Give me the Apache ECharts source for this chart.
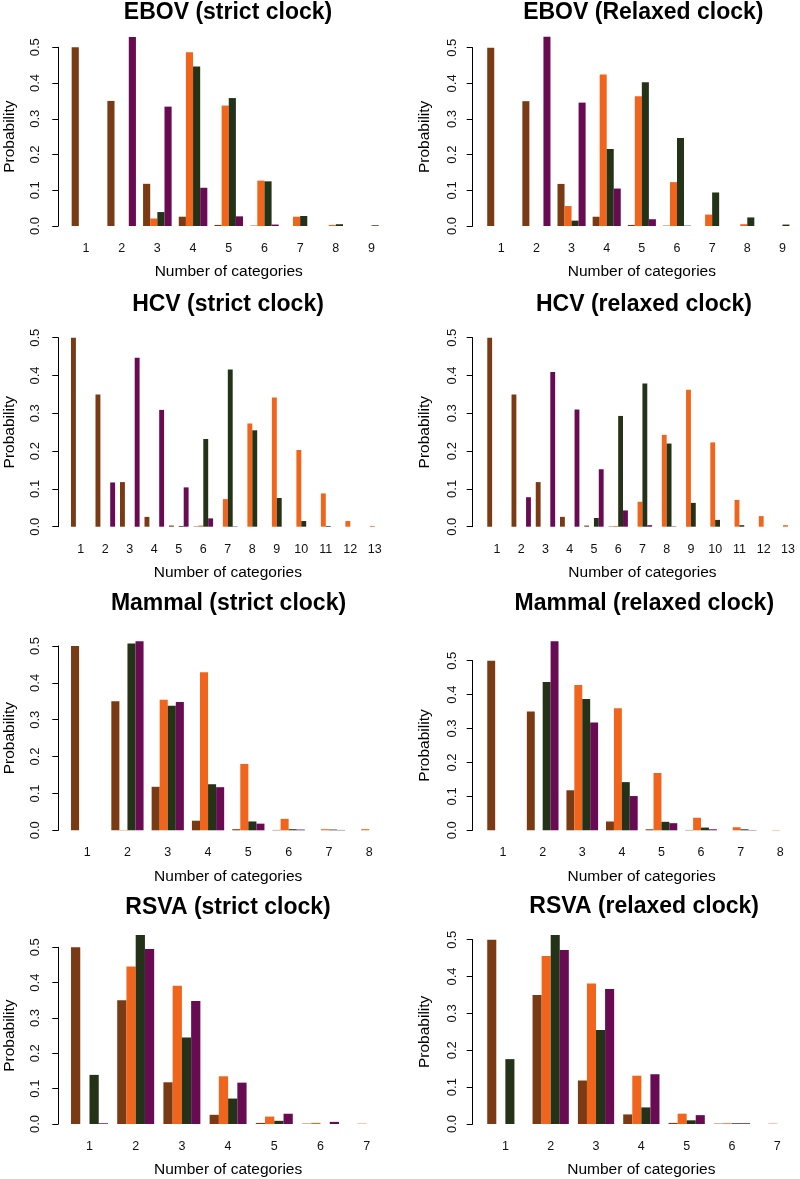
<!DOCTYPE html>
<html>
<head>
<meta charset="utf-8">
<script src="https://cdn.jsdelivr.net/npm/echarts@6/dist/echarts.min.js"></script>
<style>
  html, body { margin: 0; padding: 0; background: #ffffff; }
  #chart { width: 800px; height: 1179px; }
</style>
</head>
<body>
<div id="chart"></div>
<script>
// ---------- DATA ----------
const ebovCategories   = ['1','2','3','4','5','6','7','8','9'];
const hcvCategories    = ['1','2','3','4','5','6','7','8','9','10','11','12','13'];
const mammalCategories = ['1','2','3','4','5','6','7','8'];
const rsvaCategories   = ['1','2','3','4','5','6','7'];
const yTicks = [0, 0.1, 0.2, 0.3, 0.4, 0.5];

// brown bars (same prior distribution in every panel)
const priorValues = [0.5, 0.35, 0.118, 0.026, 0.003, 0.001, 0, 0, 0, 0, 0, 0, 0];

const ebovStrictOrange  = [0, 0, 0.021, 0.486, 0.337, 0.127, 0.026, 0.003, 0];
const ebovStrictGreen   = [0, 0, 0.039, 0.446, 0.358, 0.125, 0.028, 0.005, 0.002];
const ebovStrictPurple  = [0, 0.529, 0.334, 0.107, 0.027, 0.004, 0, 0, 0];

const ebovRelaxedOrange = [0, 0, 0.056, 0.425, 0.364, 0.123, 0.032, 0.005, 0];
const ebovRelaxedGreen  = [0, 0, 0.015, 0.216, 0.403, 0.247, 0.094, 0.024, 0.004];
const ebovRelaxedPurple = [0, 0.531, 0.346, 0.105, 0.019, 0.001, 0, 0, 0];

const hcvStrictOrange   = [0, 0, 0, 0, 0, 0.003, 0.073, 0.273, 0.342, 0.203, 0.088, 0.015, 0.002];
const hcvStrictGreen    = [0, 0, 0, 0, 0.002, 0.232, 0.416, 0.255, 0.076, 0.015, 0.002, 0, 0];
const hcvStrictPurple   = [0, 0.117, 0.447, 0.309, 0.104, 0.022, 0.001, 0, 0, 0, 0, 0, 0];

const hcvRelaxedOrange  = [0, 0, 0, 0, 0, 0.002, 0.066, 0.243, 0.362, 0.223, 0.071, 0.028, 0.004];
const hcvRelaxedGreen   = [0, 0, 0, 0, 0.023, 0.293, 0.379, 0.220, 0.063, 0.018, 0.004, 0, 0];
const hcvRelaxedPurple  = [0, 0.078, 0.409, 0.310, 0.152, 0.043, 0.004, 0.001, 0, 0, 0, 0, 0];

const mammalStrictOrange  = [0, 0.001, 0.354, 0.429, 0.180, 0.031, 0.003, 0.003];
const mammalStrictGreen   = [0, 0.507, 0.338, 0.125, 0.024, 0.003, 0.002, 0];
const mammalStrictPurple  = [0, 0.513, 0.348, 0.117, 0.018, 0.002, 0.001, 0];

const mammalRelaxedOrange = [0, 0, 0.428, 0.360, 0.169, 0.037, 0.009, 0.001];
const mammalRelaxedGreen  = [0, 0.437, 0.387, 0.142, 0.025, 0.008, 0.003, 0];
const mammalRelaxedPurple = [0, 0.557, 0.318, 0.101, 0.021, 0.003, 0.001, 0];

const rsvaStrictOrange  = [0, 0.446, 0.391, 0.135, 0.021, 0.003, 0.001];
const rsvaStrictGreen   = [0.139, 0.535, 0.245, 0.072, 0.009, 0, 0];
const rsvaStrictPurple  = [0.002, 0.495, 0.348, 0.117, 0.029, 0.006, 0];

const rsvaRelaxedOrange = [0, 0.456, 0.381, 0.131, 0.028, 0.002, 0.001];
const rsvaRelaxedGreen  = [0.176, 0.513, 0.255, 0.045, 0.010, 0.002, 0];
const rsvaRelaxedPurple = [0, 0.472, 0.366, 0.135, 0.024, 0.002, 0];

const panelTitles = [
  'EBOV (strict clock)', 'EBOV (Relaxed clock)',
  'HCV (strict clock)', 'HCV (relaxed clock)',
  'Mammal (strict clock)', 'Mammal (relaxed clock)',
  'RSVA (strict clock)', 'RSVA (relaxed clock)'
];
const xAxisTitle = 'Number of categories';
const yAxisTitle = 'Probability';

// ---------- STYLE / LAYOUT ----------
const colors = { prior: '#7a3a13', orange: '#f0651b', green: '#243318', purple: '#690b53' };
const FONT = 'Liberation Sans, Arial, Helvetica, sans-serif';

const panels = [
  { cats: ebovCategories,   o: ebovStrictOrange,    g: ebovStrictGreen,    p: ebovStrictPurple },
  { cats: ebovCategories,   o: ebovRelaxedOrange,   g: ebovRelaxedGreen,   p: ebovRelaxedPurple },
  { cats: hcvCategories,    o: hcvStrictOrange,     g: hcvStrictGreen,     p: hcvStrictPurple },
  { cats: hcvCategories,    o: hcvRelaxedOrange,    g: hcvRelaxedGreen,    p: hcvRelaxedPurple },
  { cats: mammalCategories, o: mammalStrictOrange,  g: mammalStrictGreen,  p: mammalStrictPurple },
  { cats: mammalCategories, o: mammalRelaxedOrange, g: mammalRelaxedGreen, p: mammalRelaxedPurple },
  { cats: rsvaCategories,   o: rsvaStrictOrange,    g: rsvaStrictGreen,    p: rsvaStrictPurple },
  { cats: rsvaCategories,   o: rsvaRelaxedOrange,   g: rsvaRelaxedGreen,   p: rsvaRelaxedPurple }
];

// pixel layout of each panel: category band start/width, y of 0.5 and 0.0, y-axis line x, title centre
const layout = [
  { left: 68.1,  width: 321.3, top: 47.3,  zero: 226.0,  axisX: 58.3,  tx: 228.0, ty: 13.0 },
  { left: 483.7, width: 320.4, top: 47.7,  zero: 226.0,  axisX: 472.7, tx: 643.3, ty: 13.0 },
  { left: 68.55, width: 318.5, top: 337.7, zero: 526.7,  axisX: 58.3,  tx: 228.0, ty: 305.0 },
  { left: 484.85,width: 319.0, top: 337.7, zero: 526.7,  axisX: 472.7, tx: 644.0, ty: 305.0 },
  { left: 67.0,  width: 322.4, top: 646.0, zero: 830.3,  axisX: 58.3,  tx: 228.5, ty: 603.3 },
  { left: 483.3, width: 321.6, top: 660.7, zero: 830.3,  axisX: 472.7, tx: 644.3, ty: 603.3 },
  { left: 66.4,  width: 323.4, top: 947.3, zero: 1124.3, axisX: 58.3,  tx: 228.0, ty: 907.7 },
  { left: 482.7, width: 324.1, top: 939.7, zero: 1124.3, axisX: 472.7, tx: 644.2, ty: 906.7 }
];

const option = {
  backgroundColor: '#ffffff',
  animation: false,
  textStyle: { fontFamily: FONT },
  title: [], grid: [], xAxis: [], yAxis: [], series: []
};

panels.forEach((pn, i) => {
  const L = layout[i];
  const isLeft = i % 2 === 0;
  option.title.push({
    text: panelTitles[i], left: L.tx, top: L.ty, padding: 0,
    textAlign: 'center', textVerticalAlign: 'middle',
    textStyle: { fontFamily: FONT, fontWeight: 'bold', fontSize: 23, color: '#000' }
  });
  option.grid.push({
    left: L.left, width: L.width, top: L.top, height: L.zero - L.top, containLabel: false
  });
  option.xAxis.push({
    type: 'category', gridIndex: i, data: pn.cats,
    axisLine: { show: false }, axisTick: { show: false }, splitLine: { show: false },
    axisLabel: { fontSize: 12.5, color: '#111', margin: 16, interval: 0, fontFamily: FONT },
    name: xAxisTitle, nameLocation: 'middle', nameGap: 38,
    nameTextStyle: { fontSize: 15.5, color: '#000', fontFamily: FONT }
  });
  option.yAxis.push({
    type: 'value', gridIndex: i, min: yTicks[0], max: yTicks[yTicks.length - 1], interval: 0.1,
    offset: L.left - L.axisX,
    axisLine: { show: true, lineStyle: { color: '#000', width: 1 } },
    axisTick: { show: true, inside: false, length: 6, lineStyle: { color: '#000' } },
    splitLine: { show: false },
    axisLabel: { rotate: 90, fontSize: 13, color: '#111', margin: isLeft ? 16 : 14, fontFamily: FONT,
                 formatter: v => v.toFixed(1) },
    name: yAxisTitle, nameLocation: 'middle', nameGap: isLeft ? 41 : 39.5, nameRotate: 90,
    nameTextStyle: { fontSize: 15.5, color: '#000', fontFamily: FONT }
  });
  const n = pn.cats.length;
  const sets = [
    [priorValues.slice(0, n), colors.prior],
    [pn.o, colors.orange],
    [pn.g, colors.green],
    [pn.p, colors.purple]
  ];
  sets.forEach(([vals, col]) => {
    option.series.push({
      type: 'bar', xAxisIndex: i, yAxisIndex: i, data: vals,
      barGap: '0%', barCategoryGap: '20%', clip: false,
      itemStyle: { color: col }, silent: true
    });
  });
});

const chart = echarts.init(document.getElementById('chart'), null, { renderer: 'canvas' });
chart.setOption(option);
</script>
</body>
</html>
